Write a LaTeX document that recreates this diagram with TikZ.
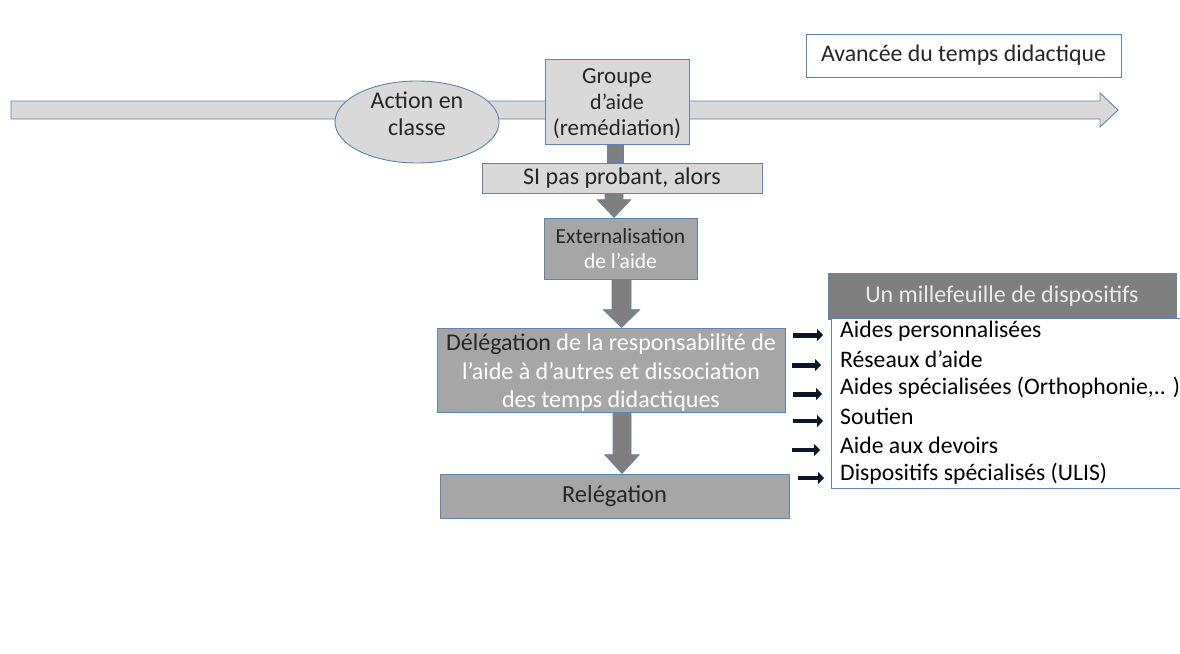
\documentclass[tikz,border=0pt]{standalone}
\usepackage{fontspec}
\setmainfont{Carlito}
\usetikzlibrary{shapes.geometric,arrows.meta,calc}
\definecolor{bord}{HTML}{5B84B1}
\definecolor{lgray}{HTML}{D9D9D9}
\definecolor{mgray}{HTML}{A6A6A6}
\definecolor{dgray}{HTML}{7F7F7F}
\definecolor{txt}{HTML}{262626}
\definecolor{arr}{HTML}{0B1626}
\newcommand\fsz[2]{\fontsize{#1}{#2}\selectfont}
% block arrow: #1 from, #2 to, #3 x centre, #4 shaft half width, #5 head half width, #6 head length
\newcommand\blockarr[6]{%
  \draw[barrow] (#3-#4,0 |- #1.south) -- ($(#3-#4,0 |- #2.north)+(0,-#6)$)
    -- ($(#3-#5,0 |- #2.north)+(0,-#6)$) -- (#3,0 |- #2.north)
    -- ($(#3+#5,0 |- #2.north)+(0,-#6)$) -- ($(#3+#4,0 |- #2.north)+(0,-#6)$)
    -- (#3+#4,0 |- #1.south) -- cycle;}
\begin{document}
\begin{tikzpicture}[x=1pt,y=-1pt,
  box/.style={draw=bord, line width=0.9pt, inner sep=0pt, align=center, text=txt},
  barrow/.style={fill=dgray, draw=bord, line width=0.6pt},
  item/.style={anchor=west, inner sep=0pt, text=black, font=\fsz{23.7}{28}},
  sarr/.style={-{Triangle[length=6pt,width=12pt]}, arr}]
\useasboundingbox[fill=white] (0,0) rectangle (1180,653);

% timeline arrow
\coordinate (tl0) at (11,110);
\coordinate (tl1) at (1118,110);
\draw[fill=lgray, draw=bord, line width=0.9pt]
  ($(tl0)+(0,-9)$) -- ($(tl1)+(-18,-9)$) -- ($(tl1)+(-18,-17)$) -- (tl1)
  -- ($(tl1)+(-18,17)$) -- ($(tl1)+(-18,9)$) -- ($(tl0)+(0,9)$) -- cycle;

\node[box, fill=white, minimum width=315pt, minimum height=43pt, font=\fsz{23.8}{28}]
  (av) at (963.5,55.5) {Avancée du temps didactique};

\node[ellipse, draw=bord, line width=0.9pt, fill=lgray, inner sep=0pt,
  minimum width=164pt, minimum height=82pt] (act) at (417,122) {};
\node[align=center, inner sep=0pt, text=txt, font=\fsz{24}{27}]
  (acttxt) at (417,114) {Action en\\classe};

\node[box, fill=lgray, minimum width=144pt, minimum height=85pt] (grp) at (617,101.5) {};
\node[align=center, inner sep=0pt, text=txt, font=\fsz{23}{26}]
  (grptxt) at (617,103.5) {Groupe\\{\fsz{22}{26}d’aide}\\(remédiation)};

\node[box, fill=lgray, minimum width=280pt, minimum height=30pt, font=\fsz{24}{28}]
  (si) at (622,178) {SI pas probant, alors};

\node[box, fill=mgray, minimum width=153pt, minimum height=61pt, font=\fsz{21.5}{25}]
  (ext) at (620.5,248.5) {Externalisation\\\textcolor{white}{de l’aide}};

\node[box, fill=mgray, minimum width=348pt, minimum height=84pt] (del) at (611,370) {};
\node[align=center, inner sep=0pt, text=white, font=\fsz{24}{28.5}]
  (deltxt) at (611,373) {\textcolor{txt}{Délégation} de la responsabilité de\\l’aide à d’autres et dissociation\\des temps didactiques};

\node[box, fill=mgray, minimum width=349pt, minimum height=44pt, font=\fsz{24.5}{28}]
  (rel) at (614.5,496) {Relégation};

\node[box, fill=dgray, minimum width=348pt, minimum height=46pt, text=white!92!black, font=\fsz{24}{28}]
  (head) at (1002,296) {Un millefeuille de dispositifs};

\node[box, fill=white, minimum width=352pt, minimum height=170pt] (list) at (1007,403) {};

% connectors
\draw[barrow] ($(grp.south)+(-10,0)$) rectangle ($(grp.south |- si.north)+(6,0)$);
\blockarr{si}{ext}{614}{9}{17}{18}
\blockarr{ext}{del}{621.5}{9.5}{18.5}{18}
\blockarr{del}{rel}{622}{9}{17.5}{19}

% list items
\node[item] (i1) at (840,331) {Aides personnalisées};
\node[item] (i2) at (840,359) {Réseaux d’aide};
\node[item] (i3) at (840,388) {Aides spécialisées (Orthophonie,.. )};
\node[item] (i4) at (840,416) {Soutien};
\node[item] (i5) at (840,445) {Aide aux devoirs};
\node[item] (i6) at (840,474) {Dispositifs spécialisés (ULIS)};

\draw[sarr, line width=5pt] ($(i1.west)+(-47,4)$) -- ($(i1.west)+(-17,4)$);
\draw[sarr, line width=5pt] ($(i2.west)+(-48,6)$) -- ($(i2.west)+(-19,6)$);
\draw[sarr, line width=5pt] ($(i3.west)+(-47,6)$) -- ($(i3.west)+(-18,6)$);
\draw[sarr, line width=4.4pt] ($(i4.west)+(-47,5)$) -- ($(i4.west)+(-17,5)$);
\draw[sarr, line width=4pt] ($(i5.west)+(-48,5)$) -- ($(i5.west)+(-20,5)$);
\draw[sarr, line width=4pt] ($(i6.west)+(-42,4)$) -- ($(i6.west)+(-16,4)$);
\end{tikzpicture}
\end{document}
